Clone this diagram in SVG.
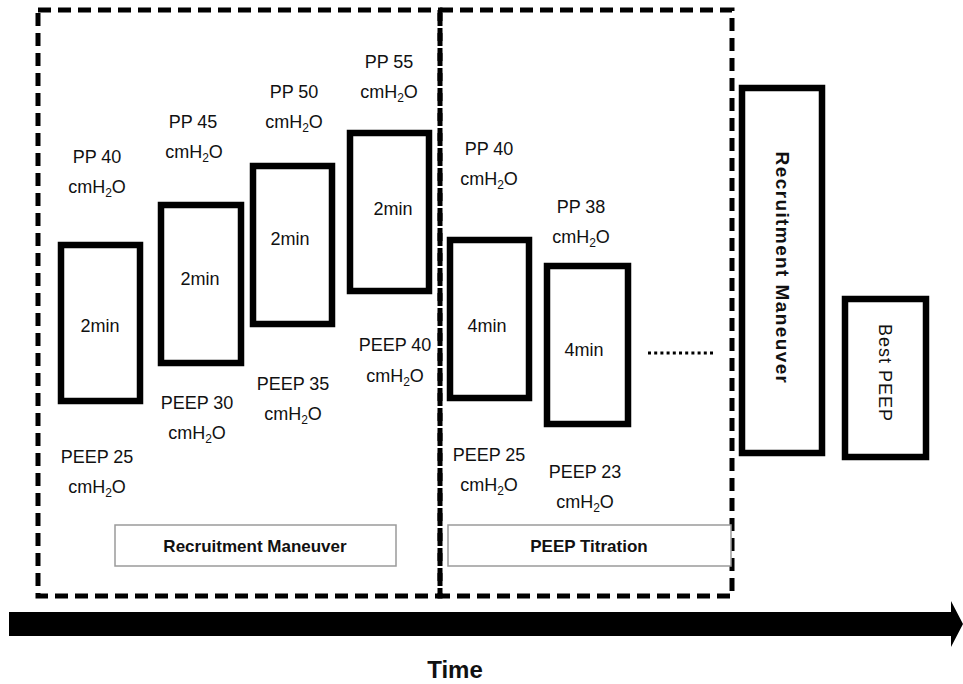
<svg xmlns="http://www.w3.org/2000/svg" width="963" height="684" viewBox="0 0 963 684">
<style>
.t{font-family:"Liberation Sans",Arial,sans-serif;font-size:18px;fill:#111;text-anchor:middle}
.b{font-weight:bold}
.box{fill:#fff;stroke:#000;stroke-width:6.5}
.dash{fill:none;stroke:#000;stroke-width:5;stroke-dasharray:13 7}
.lab{fill:#fff;stroke:#9a9a9a;stroke-width:1.5}
.sub{font-size:12px}
</style>
<rect width="963" height="684" fill="#fff"/>
<g id="phase-recruitment">
<rect class="dash" x="38" y="10" width="402" height="586"/>
</g>
<g id="phase-titration">
<rect class="dash" x="440" y="10" width="292" height="586"/>
</g>
<g id="rm1">
<rect class="box" x="61" y="245" width="79" height="156"/>
<text class="t" x="100" y="332">2min</text>
<text class="t" x="97" y="163">PP 40</text>
<text class="t" x="97" y="193">cmH<tspan class="sub" dy="4">2</tspan><tspan dy="-4">O</tspan></text>
<text class="t" x="97" y="463">PEEP 25</text>
<text class="t" x="97" y="493">cmH<tspan class="sub" dy="4">2</tspan><tspan dy="-4">O</tspan></text>
</g>
<g id="rm2">
<rect class="box" x="161" y="205" width="80" height="158"/>
<text class="t" x="200" y="285">2min</text>
<text class="t" x="193" y="128">PP 45</text>
<text class="t" x="194" y="158">cmH<tspan class="sub" dy="4">2</tspan><tspan dy="-4">O</tspan></text>
<text class="t" x="197" y="409">PEEP 30</text>
<text class="t" x="197" y="439">cmH<tspan class="sub" dy="4">2</tspan><tspan dy="-4">O</tspan></text>
</g>
<g id="rm3">
<rect class="box" x="253" y="166" width="79" height="158"/>
<text class="t" x="290" y="245">2min</text>
<text class="t" x="294" y="98">PP 50</text>
<text class="t" x="294" y="128">cmH<tspan class="sub" dy="4">2</tspan><tspan dy="-4">O</tspan></text>
<text class="t" x="293" y="390">PEEP 35</text>
<text class="t" x="293" y="420">cmH<tspan class="sub" dy="4">2</tspan><tspan dy="-4">O</tspan></text>
</g>
<g id="rm4">
<rect class="box" x="350" y="133" width="79" height="158"/>
<text class="t" x="393" y="215">2min</text>
<text class="t" x="389" y="68">PP 55</text>
<text class="t" x="389" y="98">cmH<tspan class="sub" dy="4">2</tspan><tspan dy="-4">O</tspan></text>
<text class="t" x="395" y="351">PEEP 40</text>
<text class="t" x="395" y="382">cmH<tspan class="sub" dy="4">2</tspan><tspan dy="-4">O</tspan></text>
</g>
<g id="pt1">
<rect class="box" x="450" y="240" width="79" height="158"/>
<text class="t" x="487" y="332">4min</text>
<text class="t" x="489" y="155">PP 40</text>
<text class="t" x="489" y="185">cmH<tspan class="sub" dy="4">2</tspan><tspan dy="-4">O</tspan></text>
<text class="t" x="489" y="461">PEEP 25</text>
<text class="t" x="489" y="491">cmH<tspan class="sub" dy="4">2</tspan><tspan dy="-4">O</tspan></text>
</g>
<g id="pt2">
<rect class="box" x="547" y="266" width="81" height="158"/>
<text class="t" x="584" y="356">4min</text>
<text class="t" x="581" y="213">PP 38</text>
<text class="t" x="581" y="243">cmH<tspan class="sub" dy="4">2</tspan><tspan dy="-4">O</tspan></text>
<text class="t" x="585" y="478">PEEP 23</text>
<text class="t" x="585" y="508">cmH<tspan class="sub" dy="4">2</tspan><tspan dy="-4">O</tspan></text>
</g>
<g id="rm-final">
<rect class="box" x="742" y="88" width="80" height="365"/>
<text class="t b" transform="translate(776 268) rotate(90)" style="font-size:19px;letter-spacing:1.4px">Recruitment Maneuver</text>
</g>
<g id="best-peep">
<rect class="box" x="845" y="299" width="81" height="158"/>
<text class="t" transform="translate(879 373) rotate(90)" style="font-size:18px;letter-spacing:1px">Best PEEP</text>
</g>
<g id="label-rm">
<rect class="lab" x="115" y="525" width="281" height="41"/>
<text class="t b" x="255" y="552" style="font-size:17px">Recruitment Maneuver</text>
</g>
<g id="label-pt">
<rect class="lab" x="448" y="525" width="283" height="41"/>
<text class="t b" x="589" y="552" style="font-size:17px">PEEP Titration</text>
</g>
<g id="connectors">
<line x1="648" y1="353" x2="716" y2="353" stroke="#000" stroke-width="3" stroke-dasharray="3 3.2"/>
<polygon points="9,612 951,612 951,601 963,624 951,647 951,636 9,636" fill="#000"/>
</g>
<text class="t b" x="455" y="678" style="font-size:24px">Time</text>
</svg>
